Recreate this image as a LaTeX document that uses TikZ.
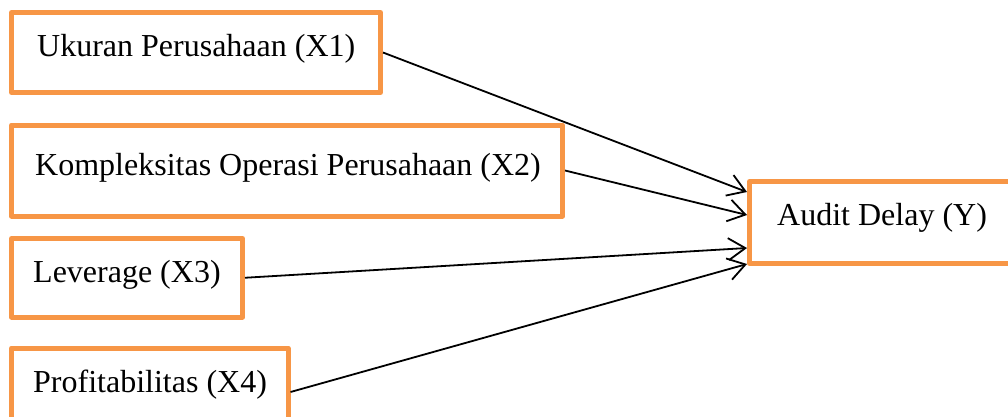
\documentclass[tikz,border=0pt]{standalone}
\usepackage{fontspec}
\setmainfont{Liberation Serif}
\usetikzlibrary{arrows.meta,calc}
\definecolor{boxorange}{RGB}{247,150,70}
\begin{document}
\begin{tikzpicture}[x=1pt,y=-1pt,
  box/.style={draw=boxorange,line width=5pt,line join=round,inner sep=0pt,outer sep=2.5pt,anchor=north west},
  lbl/.style={anchor=base west,inner sep=0pt,font=\fontsize{32}{38}\selectfont},
  conn/.style={draw=black,line width=1.8pt,-{Straight Barb[length=17pt,width=22pt,line width=1.8pt]}}]
\clip (0,0) rectangle (1008,416);
\node[box,minimum width=369pt,minimum height=80pt] (x1) at (9,10) {};
\node[box,minimum width=551pt,minimum height=91pt] (x2) at (9,122.5) {};
\node[box,minimum width=231pt,minimum height=78.5pt] (x3) at (9,236) {};
\node[box,minimum width=276.5pt,minimum height=88pt] (x4) at (9,345.5) {};
\node[box,minimum width=300pt,minimum height=82pt] (yd) at (747,179) {};
\node[lbl] (t1) at (37,56) {Ukuran Perusahaan (X1)};
\node[lbl] (t2) at (35,175) {Kompleksitas Operasi Perusahaan (X2)};
\node[lbl] (t3) at (33,282) {Leverage (X3)};
\node[lbl] (t4) at (33,392) {Profitabilitas (X4)};
\node[lbl] (ty) at (777,225) {Audit Delay (Y)};
\draw[conn] (x1.east) -- ([yshift=30.5pt]yd.west);
\draw[conn] (x2.east) -- ([yshift=7.5pt]yd.west);
\draw[conn] (x3.east) -- ([yshift=-25.5pt]yd.west);
\draw[conn] (x4.east) -- ([yshift=-41.5pt]yd.west);
\end{tikzpicture}
\end{document}
